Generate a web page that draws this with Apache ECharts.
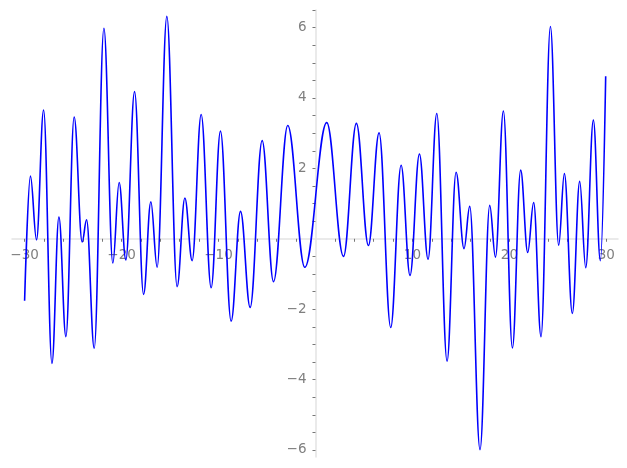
<!DOCTYPE html>
<html>
<head>
<meta charset="utf-8">
<script src="https://cdn.jsdelivr.net/npm/echarts@6/dist/echarts.min.js"></script>
<style>
html,body{margin:0;padding:0;background:#fff;}
#c{width:627px;height:468px;}
</style>
</head>
<body>
<div id="c"></div>
<script>
// Curve samples (start, local extrema, end)
const xs = [-30, -29.4, -28.77, -28.04, -27.18, -26.46, -25.74, -24.89, -24.06, -23.61, -22.82, -21.82, -20.9, -20.25,
  -19.56, -18.66, -17.73, -16.98, -16.33, -15.33, -14.27, -13.47, -12.72, -11.79, -10.76, -9.8,
  -8.7, -7.73, -6.74, -5.5, -4.33, -2.86, -1.1,
  1.16, 2.89, 4.22, 5.46, 6.56, 7.76, 8.83, 9.75, 10.72,
  11.61, 12.51, 13.57, 14.5, 15.32, 15.91, 16.97, 17.97, 18.56, 19.38, 20.31, 21.16,
  21.89, 22.5, 23.26, 24.23, 25.08, 25.67, 26.49, 27.25, 27.87, 28.66, 29.38, 29.93];
const ys = [-1.76, 1.78, -0.03, 3.66, -3.54, 0.62, -2.78, 3.46, -0.09, 0.54, -3.11, 5.98, -0.69, 1.6,
  -0.6, 4.18, -1.58, 1.05, -0.81, 6.32, -1.36, 1.16, -0.62, 3.53, -1.39, 3.06,
  -2.34, 0.78, -1.95, 2.79, -1.22, 3.22, -0.81,
  3.3, -0.5, 3.28, -0.19, 3.01, -2.52, 2.09, -1.04, 2.41,
  -0.58, 3.56, -3.48, 1.89, -0.28, 0.92, -5.99, 0.95, -0.52, 3.63, -3.1, 1.95,
  -0.39, 1.03, -2.78, 6.03, -0.18, 1.85, -2.12, 1.63, -0.82, 3.37, -0.62, 4.62];

const xLabels = [-30, -20, -10, 10, 20, 30];
const yLabels = [-6, -4, -2, 2, 4, 6];
const xTicks = [-30,-28,-26,-24,-22,-20,-18,-16,-14,-12,-10,-8,-6,-4,-2,2,4,6,8,10,12,14,16,18,20,22,24,26,28,30];
const yTicks = [-6,-5.5,-5,-4.5,-4,-3.5,-3,-2.5,-2,-1.5,-1,-0.5,0.5,1,1.5,2,2.5,3,3.5,4,4.5,5,5.5,6,6.5];

const W = 627, H = 468;
const G = {left: 12, right: 9, top: 10, bottom: 11};
const XMIN = -31.3, XMAX = 31.2, YMIN = -6.2, YMAX = 6.5;
// place each axis on the other axis's zero
const gw = W - G.left - G.right, gh = H - G.top - G.bottom;
const yAxisOffset = -(gw * (0 - XMIN) / (XMAX - XMIN));
const xAxisOffset = -(gh * (0 - YMIN) / (YMAX - YMIN));

const fmt = v => String(v).replace('-', '\u2212');
const chart = echarts.init(document.getElementById('c'), null, {renderer: 'canvas'});
chart.setOption({
  animation: false,
  backgroundColor: '#ffffff',
  grid: Object.assign({containLabel: false, outerBoundsMode: 'none'}, G),
  xAxis: {
    type: 'value', min: XMIN, max: XMAX, position: 'bottom', offset: xAxisOffset,
    axisLine: {onZero: false, lineStyle: {color: '#e3e3e3', width: 1.5}},
    axisTick: {show: true, length: 3, customValues: xTicks, lineStyle: {color: '#777', width: 1}},
    axisLabel: {customValues: xLabels, formatter: fmt, color: '#7f7f7f', fontSize: 13.5,
      fontFamily: 'DejaVu Sans', margin: 10},
    splitLine: {show: false}
  },
  yAxis: {
    type: 'value', min: YMIN, max: YMAX, position: 'left', offset: yAxisOffset,
    axisLine: {show: true, onZero: false, lineStyle: {color: '#e3e3e3', width: 1.5}},
    axisTick: {show: true, length: 3, customValues: yTicks, lineStyle: {color: '#777', width: 1}},
    axisLabel: {customValues: yLabels, formatter: fmt, color: '#7f7f7f', fontSize: 13.5,
      fontFamily: 'DejaVu Sans', margin: 9},
    splitLine: {show: false}
  },
  series: [{
    type: 'line',
    data: xs.map((x, i) => [x, ys[i]]),
    showSymbol: false,
    smooth: 0.38,
    smoothMonotone: 'x',
    lineStyle: {color: '#0000ff', width: 1.6},
    z: 1
  }]
});
</script>
</body>
</html>
